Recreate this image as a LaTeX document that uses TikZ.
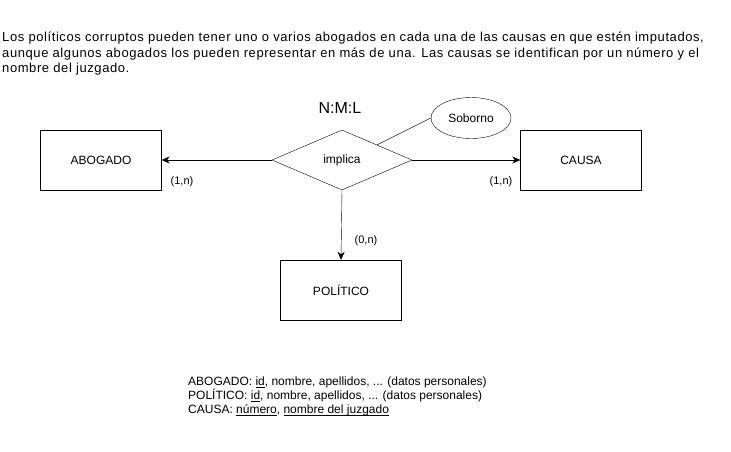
\documentclass[tikz,border=0pt]{standalone}
\usepackage{fontspec}
\setmainfont{Liberation Sans}
\usetikzlibrary{shapes.geometric, arrows.meta, calc}
\newcommand{\clave}[1]{\underline{\smash{#1}}}

\begin{document}
\begin{tikzpicture}[
    x = 1pt,
    y = -1pt,
    entity/.style = {draw, minimum width = 121pt, minimum height = 60pt,
      font = \fontsize{12}{14}\selectfont},
    relation/.style = {draw, diamond, aspect = 2.33, minimum width = 140pt,
      minimum height = 60pt, inner sep = 0pt, font = \fontsize{12}{14}\selectfont},
    attrib/.style = {draw, ellipse, minimum width = 80pt, minimum height = 41pt,
      inner sep = 0pt, font = \fontsize{12}{14}\selectfont},
    card/.style = {font = \fontsize{11}{13}\selectfont},
    link/.style = {-{Stealth[length = 8pt, width = 7pt]}},
    ]
    \useasboundingbox (0, 0) rectangle (731, 451);
    % statement
    \node[anchor = north west, align = left, inner sep = 0pt,
      font = \fontsize{13}{15.5}\selectfont\addfontfeature{LetterSpace = 4.5}]
    (enunciado) at (2, 32)
    {Los políticos corruptos pueden tener uno o varios abogados en cada una de las causas en que estén imputados,\\
      aunque algunos abogados los pueden representar en más de una. Las causas se identifican por un número y el\\
      nombre del juzgado.};
    % entities
    \node[entity] (abogado) at (101, 160) {ABOGADO};
    \node[entity] (causa) at (581, 160) {CAUSA};
    \node[entity] (politico) at (341, 290) {POLÍTICO};
    % relation
    \node[relation] (implica) at (342, 160) {implica};
    \node[font = \fontsize{16}{18}\selectfont] (tipo) at (340, 108) {N:M:L};
    \node[attrib] (soborno) at (471, 118) {Soborno};
    \coordinate (arista) at ($(implica.north)!0.5!(implica.east)$);
    \draw (arista) -- (soborno.west);
    % arrows
    \draw[link] (implica.west) -- (abogado.east);
    \draw[link] (implica.east) -- (causa.west);
    \draw[link] (implica.south) -- (politico.north);
    % cardinalities
    \node[card] (cabogado) at (182, 182) {(1,n)};
    \node[card] (ccausa) at (501, 182) {(1,n)};
    \node[card] (cpolitico) at (366, 241) {(0,n)};
    % schema
    \node[anchor = north west, align = left, inner sep = 0pt,
      font = \fontsize{12}{14}\selectfont] (esquema) at (188, 377)
    {ABOGADO: \clave{id}, nombre, apellidos, ... (datos personales)\\
      POLÍTICO: \clave{id}, nombre, apellidos, ... (datos personales)\\
      CAUSA: \clave{número}, \clave{nombre del juzgado}};
  \end{tikzpicture}
\end{document}
